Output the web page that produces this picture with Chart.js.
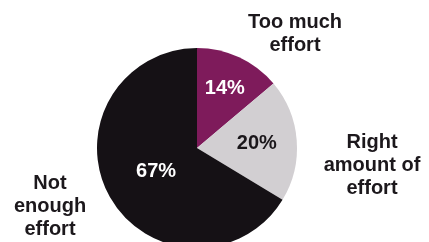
<html><head><meta charset="utf-8">
<script src="https://cdn.jsdelivr.net/npm/chart.js@4"></script>
<style>
 html,body{margin:0;padding:0;background:#fff;overflow:hidden;}
 #wrap{position:relative;width:429px;height:260px;}
</style>
</head>
<body>
<div id="wrap"><canvas id="myChart" width="429" height="260"></canvas></div>
<script>
// effort ratings
var categories = [['Too much', 'effort'], ['Right', 'amount of', 'effort'], ['Not', 'enough', 'effort']];
var shares = [14, 20, 67];
var pctLabels = ['14%', '20%', '67%'];
var colours = ['#7e1b5b', '#d2cfd2', '#151115'];
var pctColours = ['#ffffff', '#1a161a', '#ffffff'];

// where the labels sit: fraction of the radius along the slice middle (percent),
// and offset from the pie centre in px (category names)
var pctRadius = [0.66, 0.6, 0.47];
var nameOffset = [[98, -126], [175, -6], [-147, 35]];

var labelPlugin = {
  id: 'sliceLabels',
  afterDatasetsDraw: function(chart) {
    var c = chart.ctx;
    var arcs = chart.getDatasetMeta(0).data;
    c.save();
    c.font = 'bold 20px "Liberation Sans", Arial, sans-serif';
    c.textAlign = 'center';
    c.textBaseline = 'middle';
    arcs.forEach(function(a, i) {
      var mid = (a.startAngle + a.endAngle) / 2;
      var r = a.outerRadius * pctRadius[i];
      c.fillStyle = pctColours[i];
      c.fillText(pctLabels[i], a.x + Math.cos(mid) * r, a.y + Math.sin(mid) * r);
      c.fillStyle = '#1c181c';
      var lines = categories[i];
      var x0 = a.x + nameOffset[i][0], y0 = a.y + nameOffset[i][1];
      lines.forEach(function(t, k) { c.fillText(t, x0, y0 + k * 23); });
    });
    c.restore();
  }
};

var ctx = document.getElementById('myChart');
var myChart = new Chart(ctx, {
  type: 'pie',
  data: {
    labels: categories.map(function(l) { return l.join(' '); }),
    datasets: [{
      data: shares,
      backgroundColor: colours,
      borderWidth: 0
    }]
  },
  options: {
    responsive: false,
    animation: false,
    layout: { padding: { left: 97, right: 132, top: 48, bottom: 12 } },
    plugins: { legend: { display: false }, tooltip: { enabled: false } }
  },
  plugins: [labelPlugin]
});
</script>
</body></html>
